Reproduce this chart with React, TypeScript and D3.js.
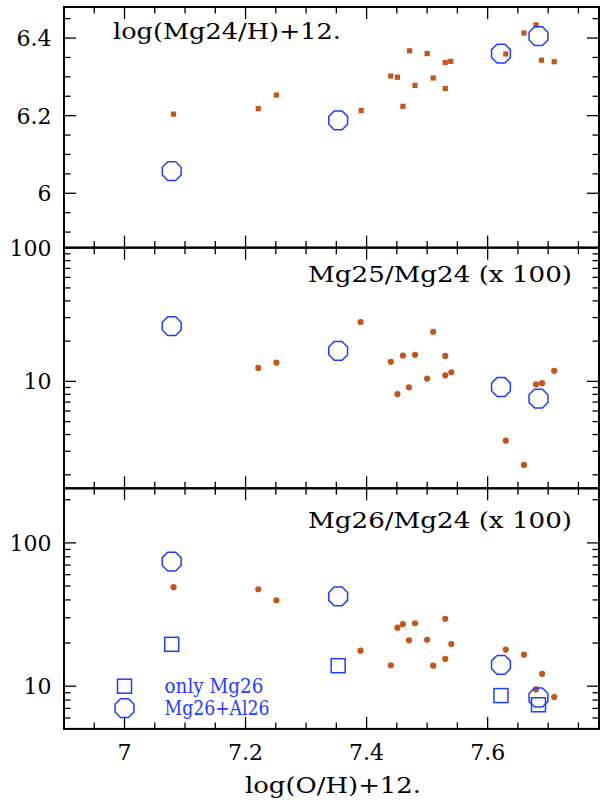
import * as d3 from "d3";

// log(O/H)+12 for each observed galaxy, per panel
const obsX24 = [7.081, 7.221, 7.251, 7.391, 7.44, 7.451, 7.46, 7.471, 7.48, 7.5, 7.51, 7.53, 7.53, 7.539, 7.63, 7.66, 7.68, 7.689, 7.71];
const obsMg24 = [6.204, 6.218, 6.253, 6.213, 6.302, 6.299, 6.224, 6.367, 6.278, 6.36, 6.297, 6.337, 6.27, 6.34, 6.359, 6.413, 6.434, 6.343, 6.339];

const obsX25 = [7.221, 7.251, 7.39, 7.44, 7.451, 7.46, 7.47, 7.48, 7.5, 7.51, 7.53, 7.53, 7.54, 7.63, 7.66, 7.68, 7.69, 7.71];
const obsMg25 = [12.6, 13.8, 27.8, 14.0, 8.04, 15.6, 9.02, 15.8, 10.5, 23.5, 15.5, 11.1, 11.7, 3.6, 2.37, 9.5, 9.7, 12.0];

const obsX26 = [7.081, 7.221, 7.251, 7.39, 7.44, 7.451, 7.46, 7.47, 7.48, 7.5, 7.51, 7.53, 7.53, 7.54, 7.63, 7.66, 7.68, 7.69, 7.71];
const obsMg26 = [49.1, 47.5, 39.8, 17.7, 14.0, 25.6, 27.1, 20.9, 27.5, 21.1, 13.9, 29.5, 15.5, 19.7, 18.0, 16.6, 9.5, 12.2, 8.4];

// model points
const modelX = [7.078, 7.353, 7.622, 7.684];
const modelMg24 = [6.057, 6.188, 6.36, 6.405];
const modelMg25 = [25.9, 16.9, 9.07, 7.42];
const modelMg26Al = [74.1, 42.3, 14.1, 8.34];
const modelMg26Only = [19.6, 13.9, 8.6, 7.42];

// legend
const legendX = 7.0;
const legendY = [10, 7.03];
const legendLabels = ["only Mg26", "Mg26+Al26"];

// ticks
const xMajor = [7, 7.2, 7.4, 7.6];
const xMinor = [6.95, 7.05, 7.1, 7.15, 7.25, 7.3, 7.35, 7.45, 7.5, 7.55, 7.65, 7.7, 7.75];
const y1Major = [6, 6.2, 6.4];
const y1Minor = [5.9, 5.95, 6.05, 6.1, 6.15, 6.25, 6.3, 6.35, 6.45];
const y2Major = [10, 100];
const y2Minor = [2, 3, 4, 5, 6, 7, 8, 9, 20, 30, 40, 50, 60, 70, 80, 90];
const y3Major = [10, 100];
const y3Minor = [6, 7, 8, 9, 20, 30, 40, 50, 60, 70, 80, 90, 200];

const ORANGE = "#c2561c";
const BLUE = "#1f3dff";
const FONT = "DejaVu Serif";

const L = 64;
const R = 599;
const tops = [7, 247.7, 488.3];
const PH = 240.6;

const x = d3.scaleLinear().domain([6.9, 7.784]).range([L, R]);
const y1 = d3.scaleLinear().domain([5.86, 6.48]).range([tops[0] + PH, tops[0]]);
const y2 = d3.scaleLog().domain([Math.pow(10, 0.2), 100]).range([tops[1] + PH, tops[1]]);
const y3 = d3.scaleLog().domain([Math.pow(10, 0.702), Math.pow(10, 2.381)]).range([tops[2] + PH, tops[2]]);

function octagon(r: number) {
  const pts: [number, number][] = d3.range(8).map((k) => {
    const a = Math.PI / 8 + (k * Math.PI) / 4;
    return [r * Math.cos(a), r * Math.sin(a)];
  });
  return d3.line()(pts) + "Z";
}
const OCT = octagon(10.2);

function Panel({
  top,
  y,
  major,
  minor,
  labels,
}: {
  top: number;
  y: (v: number) => number;
  major: number[];
  minor: number[];
  labels: string[];
}) {
  const bottom = top + PH;
  const MJ = 12;
  const MN = 6.5;
  return (
    <g>
      {xMajor.map((v) => (
        <g key={"xM" + v} stroke="#000" strokeWidth={1.3}>
          <line x1={x(v)} x2={x(v)} y1={bottom} y2={bottom - MJ} />
          <line x1={x(v)} x2={x(v)} y1={top} y2={top + MJ} />
        </g>
      ))}
      {xMinor.map((v) => (
        <g key={"xm" + v} stroke="#000" strokeWidth={1.3}>
          <line x1={x(v)} x2={x(v)} y1={bottom} y2={bottom - MN} />
          <line x1={x(v)} x2={x(v)} y1={top} y2={top + MN} />
        </g>
      ))}
      {major.map((v) => (
        <g key={"yM" + v} stroke="#000" strokeWidth={1.3}>
          <line x1={L} x2={L + MJ} y1={y(v)} y2={y(v)} />
          <line x1={R} x2={R - MJ} y1={y(v)} y2={y(v)} />
        </g>
      ))}
      {minor.map((v) => (
        <g key={"ym" + v} stroke="#000" strokeWidth={1.3}>
          <line x1={L} x2={L + MN} y1={y(v)} y2={y(v)} />
          <line x1={R} x2={R - MN} y1={y(v)} y2={y(v)} />
        </g>
      ))}
      {major.map((v, i) => (
        <text
          key={"yl" + v}
          x={L - 12.5}
          y={y(v)}
          dy="0.36em"
          textAnchor="end"
          fontFamily={FONT}
          fontSize={22}
        >
          {labels[i]}
        </text>
      ))}
      <rect x={L} y={top} width={R - L} height={PH} fill="none" stroke="#000" strokeWidth={2} />
    </g>
  );
}

export default function App() {
  return (
    <svg
      width={600}
      height={803}
      style={{ position: "absolute", left: 0, top: 0, background: "#fff" }}
    >
      <rect width={600} height={803} fill="#fff" />

      {/* panel 1 */}
      <Panel top={tops[0]} y={y1} major={y1Major} minor={y1Minor} labels={["6", "6.2", "6.4"]} />
      {obsX24.map((v, i) => (
        <rect key={"p1" + i} x={x(v) - 2.6} y={y1(obsMg24[i]) - 2.6} width={5.2} height={5.2} fill={ORANGE} />
      ))}
      {modelX.map((v, i) => (
        <path key={"m1" + i} d={OCT} transform={`translate(${x(v)},${y1(modelMg24[i])})`} fill="none" stroke={BLUE} strokeWidth={1.5} />
      ))}
      <text x={113} y={39} fontFamily={FONT} fontSize={22} textLength={228} lengthAdjust="spacingAndGlyphs">
        log(Mg24/H)+12.
      </text>

      {/* panel 2 */}
      <Panel top={tops[1]} y={y2} major={y2Major} minor={y2Minor} labels={["10", "100"]} />
      {obsX25.map((v, i) => (
        <circle key={"p2" + i} cx={x(v)} cy={y2(obsMg25[i])} r={3.1} fill={ORANGE} />
      ))}
      {modelX.map((v, i) => (
        <path key={"m2" + i} d={OCT} transform={`translate(${x(v)},${y2(modelMg25[i])})`} fill="none" stroke={BLUE} strokeWidth={1.5} />
      ))}
      <text x={308} y={282} fontFamily={FONT} fontSize={22} textLength={264} lengthAdjust="spacingAndGlyphs">
        Mg25/Mg24 (x 100)
      </text>

      {/* panel 3 */}
      <Panel top={tops[2]} y={y3} major={y3Major} minor={y3Minor} labels={["10", "100"]} />
      {obsX26.map((v, i) => (
        <circle key={"p3" + i} cx={x(v)} cy={y3(obsMg26[i])} r={3.1} fill={ORANGE} />
      ))}
      {modelX.map((v, i) => (
        <path key={"m3a" + i} d={OCT} transform={`translate(${x(v)},${y3(modelMg26Al[i])})`} fill="none" stroke={BLUE} strokeWidth={1.5} />
      ))}
      {modelX.map((v, i) => (
        <rect key={"m3b" + i} x={x(v) - 7} y={y3(modelMg26Only[i]) - 7} width={14} height={14} fill="none" stroke={BLUE} strokeWidth={1.5} />
      ))}
      <text x={308} y={528} fontFamily={FONT} fontSize={22} textLength={264} lengthAdjust="spacingAndGlyphs">
        Mg26/Mg24 (x 100)
      </text>

      {/* legend */}
      <rect x={x(legendX) - 7} y={y3(legendY[0]) - 7} width={14} height={14} fill="none" stroke={BLUE} strokeWidth={1.5} />
      <path d={OCT} transform={`translate(${x(legendX)},${y3(legendY[1])})`} fill="none" stroke={BLUE} strokeWidth={1.5} />
      {legendLabels.map((t, i) => (
        <text
          key={t}
          x={164.5}
          y={y3(legendY[i]) + 6.5}
          fill={BLUE}
          fontFamily={FONT}
          fontSize={20}
          textLength={i === 0 ? 99 : 105}
          lengthAdjust="spacingAndGlyphs"
        >
          {t}
        </text>
      ))}

      {/* x tick labels + title */}
      {xMajor.map((v) => (
        <text key={"xl" + v} x={x(v)} y={760} textAnchor="middle" fontFamily={FONT} fontSize={22}>
          {d3.format("")(v)}
        </text>
      ))}
      <text x={333} y={793} textAnchor="middle" fontFamily={FONT} fontSize={22} textLength={176} lengthAdjust="spacingAndGlyphs">
        log(O/H)+12.
      </text>
    </svg>
  );
}
